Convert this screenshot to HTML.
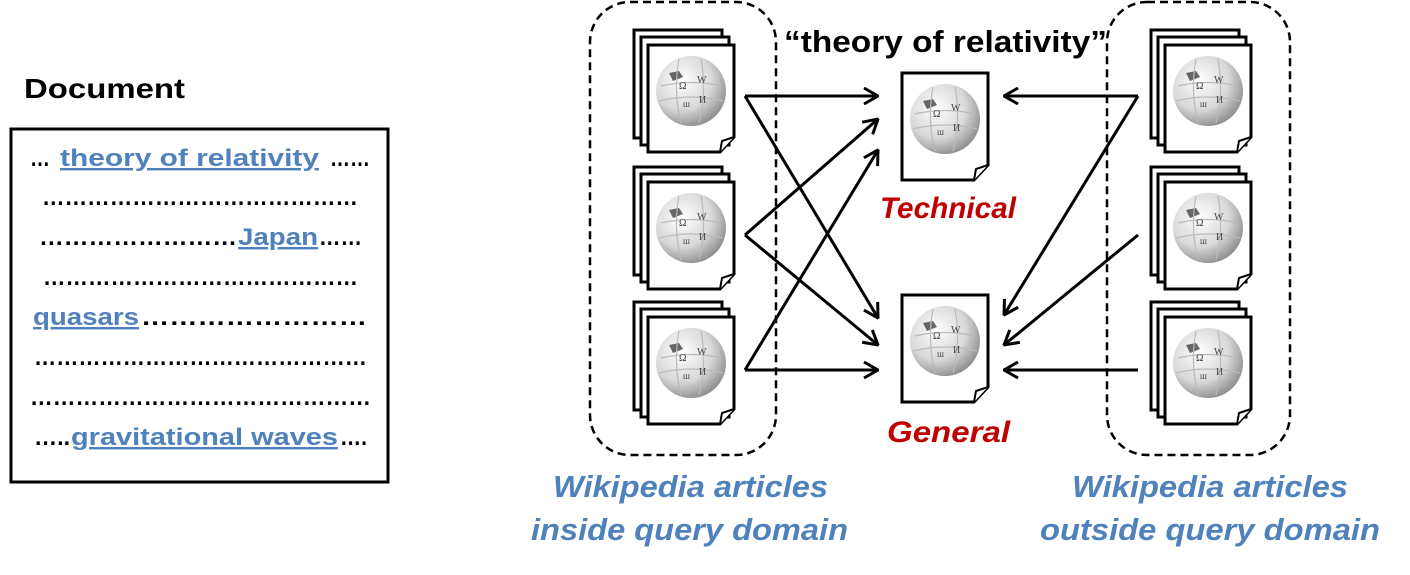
<!DOCTYPE html>
<html><head><meta charset="utf-8"><style>
html,body{margin:0;padding:0;background:#fff;}
svg{display:block;font-family:"Liberation Sans",sans-serif;}
.b{fill:#4f81bd;font-weight:bold;}
.k{fill:#000;font-weight:bold;}
</style></head><body>
<svg width="1410" height="575" viewBox="0 0 1410 575" xmlns="http://www.w3.org/2000/svg">
<defs>
<radialGradient id="g" cx="0.38" cy="0.35" r="0.7">
<stop offset="0" stop-color="#ffffff"/><stop offset="0.6" stop-color="#d8d8d8"/><stop offset="1" stop-color="#8a8a8a"/>
</radialGradient>
<g id="globe">
<circle cx="0" cy="0" r="35" fill="url(#g)"/>
<path d="M-22,-18 L-12,-20 L-8,-14 L-18,-10 Z" fill="#666"/>
<path d="M-30,-5 Q0,-12 30,-5 M-32,10 Q0,2 32,10 M-12,-32 Q-18,0 -10,32 M10,-32 Q16,0 8,32" stroke="#bbb" fill="none" stroke-width="1.2"/>
<text x="-12" y="-2" font-size="10" fill="#444" font-family="Liberation Serif">Ω</text>
<text x="6" y="-8" font-size="10" fill="#444" font-family="Liberation Serif">W</text>
<text x="8" y="12" font-size="10" fill="#444" font-family="Liberation Serif">И</text>
<text x="-8" y="16" font-size="9" fill="#444" font-family="Liberation Serif">ш</text>
</g>
<g id="page">
<path d="M0,0 H86 V92 L72,107 H0 Z" fill="#fff" stroke="#000" stroke-width="3"/>
<path d="M72,107 L74,96 L86,92" fill="#fff" stroke="#000" stroke-width="2"/>
<use href="#globe" x="43" y="46"/>
</g>
<g id="stack">
<rect x="0" y="0" width="88" height="108" fill="#fff" stroke="#000" stroke-width="3"/>
<rect x="7" y="7" width="88" height="108" fill="#fff" stroke="#000" stroke-width="3"/>
<g transform="translate(14,15)"><use href="#page"/></g>
</g>
<marker id="a" viewBox="0 0 20 20" refX="19" refY="10" markerWidth="20" markerHeight="20" markerUnits="userSpaceOnUse" orient="auto">
<path d="M5,2 L19,10 L5,18" fill="none" stroke="#000" stroke-width="3"/>
</marker>
</defs>

<text x="24" y="98" class="k" font-size="28" textLength="161" lengthAdjust="spacingAndGlyphs">Document</text>
<rect x="11" y="129" width="377" height="353" fill="none" stroke="#000" stroke-width="3"/>
<g font-size="24" font-weight="bold">
<text x="30" y="166" textLength="20" lengthAdjust="spacingAndGlyphs">…</text>
<text x="60" y="166" class="b" text-decoration="underline" textLength="259" lengthAdjust="spacingAndGlyphs">theory of relativity</text>
<text x="330" y="166" textLength="40" lengthAdjust="spacingAndGlyphs">……</text>
<text x="42" y="205" textLength="316" lengthAdjust="spacingAndGlyphs">……………………………………</text>
<text x="39" y="245" textLength="198" lengthAdjust="spacingAndGlyphs">……………………</text>
<text x="238" y="245" class="b" text-decoration="underline" textLength="80" lengthAdjust="spacingAndGlyphs">Japan</text>
<text x="319" y="245" textLength="43" lengthAdjust="spacingAndGlyphs">……</text>
<text x="43" y="285" textLength="315" lengthAdjust="spacingAndGlyphs">……………………………………</text>
<text x="33" y="325" class="b" text-decoration="underline" textLength="106" lengthAdjust="spacingAndGlyphs">quasars</text>
<text x="141" y="325" textLength="226" lengthAdjust="spacingAndGlyphs">……………………</text>
<text x="34" y="365" textLength="333" lengthAdjust="spacingAndGlyphs">………………………………………</text>
<text x="30" y="405" textLength="341" lengthAdjust="spacingAndGlyphs">………………………………………</text>
<text x="34" y="445" textLength="36" lengthAdjust="spacingAndGlyphs">…..</text>
<text x="71" y="445" class="b" text-decoration="underline" textLength="267" lengthAdjust="spacingAndGlyphs">gravitational waves</text>
<text x="340" y="445" textLength="27" lengthAdjust="spacingAndGlyphs">….</text>
</g>

<rect x="590" y="2" width="186" height="453" rx="40" fill="none" stroke="#000" stroke-width="2.5" stroke-dasharray="8,5"/>
<rect x="1107" y="2" width="183" height="453" rx="40" fill="none" stroke="#000" stroke-width="2.5" stroke-dasharray="8,5"/>

<use href="#stack" x="634" y="30"/>
<use href="#stack" x="634" y="167"/>
<use href="#stack" x="634" y="302"/>
<use href="#stack" x="1151" y="30"/>
<use href="#stack" x="1151" y="167"/>
<use href="#stack" x="1151" y="302"/>

<use href="#page" x="902" y="73"/>
<use href="#page" x="902" y="295"/>

<g stroke="#000" stroke-width="3" fill="none" marker-end="url(#a)">
<line x1="745" y1="96" x2="878" y2="96"/>
<line x1="745" y1="96" x2="878" y2="318"/>
<line x1="745" y1="235" x2="878" y2="119"/>
<line x1="745" y1="235" x2="878" y2="345"/>
<line x1="745" y1="370" x2="878" y2="150"/>
<line x1="745" y1="370" x2="878" y2="370"/>
<line x1="1138" y1="96" x2="1004" y2="96"/>
<line x1="1138" y1="96" x2="1004" y2="315"/>
<line x1="1138" y1="235" x2="1004" y2="345"/>
<line x1="1138" y1="370" x2="1004" y2="370"/>
</g>

<text x="784" y="52" class="k" font-size="31" textLength="323" lengthAdjust="spacingAndGlyphs">“theory of relativity”</text>
<text x="880" y="218" font-size="30" font-weight="bold" font-style="italic" fill="#c00000" textLength="136" lengthAdjust="spacingAndGlyphs">Technical</text>
<text x="887" y="442" font-size="30" font-weight="bold" font-style="italic" fill="#c00000" textLength="123" lengthAdjust="spacingAndGlyphs">General</text>

<g class="b" font-size="31" font-style="italic">
<text x="553" y="497" textLength="275" lengthAdjust="spacingAndGlyphs">Wikipedia articles</text>
<text x="531" y="540" textLength="317" lengthAdjust="spacingAndGlyphs">inside query domain</text>
<text x="1072" y="497" textLength="276" lengthAdjust="spacingAndGlyphs">Wikipedia articles</text>
<text x="1040" y="540" textLength="340" lengthAdjust="spacingAndGlyphs">outside query domain</text>
</g>
</svg>
</body></html>
